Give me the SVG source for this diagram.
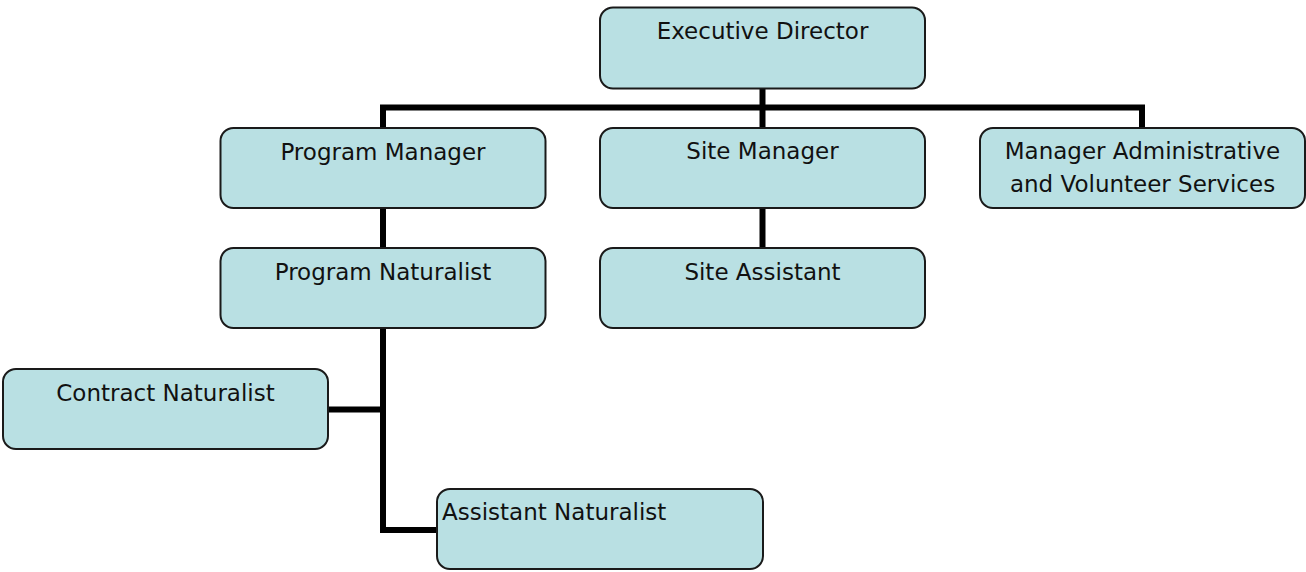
<svg xmlns="http://www.w3.org/2000/svg" width="1306" height="572" viewBox="0 0 1306 572">
  <style>
    .box { fill: #B9E0E3; stroke: #1a1a1a; stroke-width: 2; }
    .lbl { font-family: "DejaVu Sans", "Verdana", sans-serif; font-size: 23px; fill: #111; }
    .c { text-anchor: middle; }
    .conn { fill: none; stroke: #000; stroke-width: 6; stroke-linejoin: miter; stroke-linecap: butt; }
  </style>
  <rect width="1306" height="572" fill="#ffffff"/>
  <g id="connectors">
    <path class="conn" d="M762.5,88 V128"/>
    <path class="conn" d="M383,128 V107.5 H1142 V128"/>
    <path class="conn" d="M383,208 V248"/>
    <path class="conn" d="M762.5,208 V248"/>
    <path class="conn" d="M383,328 V530 H437"/>
    <path class="conn" d="M328,409.5 H383"/>
  </g>
  <g id="executive-director">
    <rect class="box" x="600" y="7.5" width="325" height="81" rx="13"/>
    <text class="lbl c" x="762.5" y="39">Executive Director</text>
  </g>
  <g id="program-manager">
    <rect class="box" x="220.5" y="128" width="325" height="80" rx="13"/>
    <text class="lbl c" x="383" y="159.5">Program Manager</text>
  </g>
  <g id="site-manager">
    <rect class="box" x="600" y="128" width="325" height="80" rx="13"/>
    <text class="lbl c" x="762.5" y="159">Site Manager</text>
  </g>
  <g id="manager-admin">
    <rect class="box" x="980" y="128" width="325" height="80" rx="13"/>
    <text class="lbl c" x="1142.5" y="158.5">Manager Administrative</text>
    <text class="lbl c" x="1142.5" y="191.5">and Volunteer Services</text>
  </g>
  <g id="program-naturalist">
    <rect class="box" x="220.5" y="248" width="325" height="80" rx="13"/>
    <text class="lbl c" x="383" y="279.5">Program Naturalist</text>
  </g>
  <g id="site-assistant">
    <rect class="box" x="600" y="248" width="325" height="80" rx="13"/>
    <text class="lbl c" x="762.5" y="279.5">Site Assistant</text>
  </g>
  <g id="contract-naturalist">
    <rect class="box" x="3" y="369" width="325" height="80" rx="13"/>
    <text class="lbl c" x="165.5" y="401">Contract Naturalist</text>
  </g>
  <g id="assistant-naturalist">
    <rect class="box" x="437" y="489" width="326" height="80" rx="13"/>
    <text class="lbl" x="442" y="520">Assistant Naturalist</text>
  </g>
</svg>
